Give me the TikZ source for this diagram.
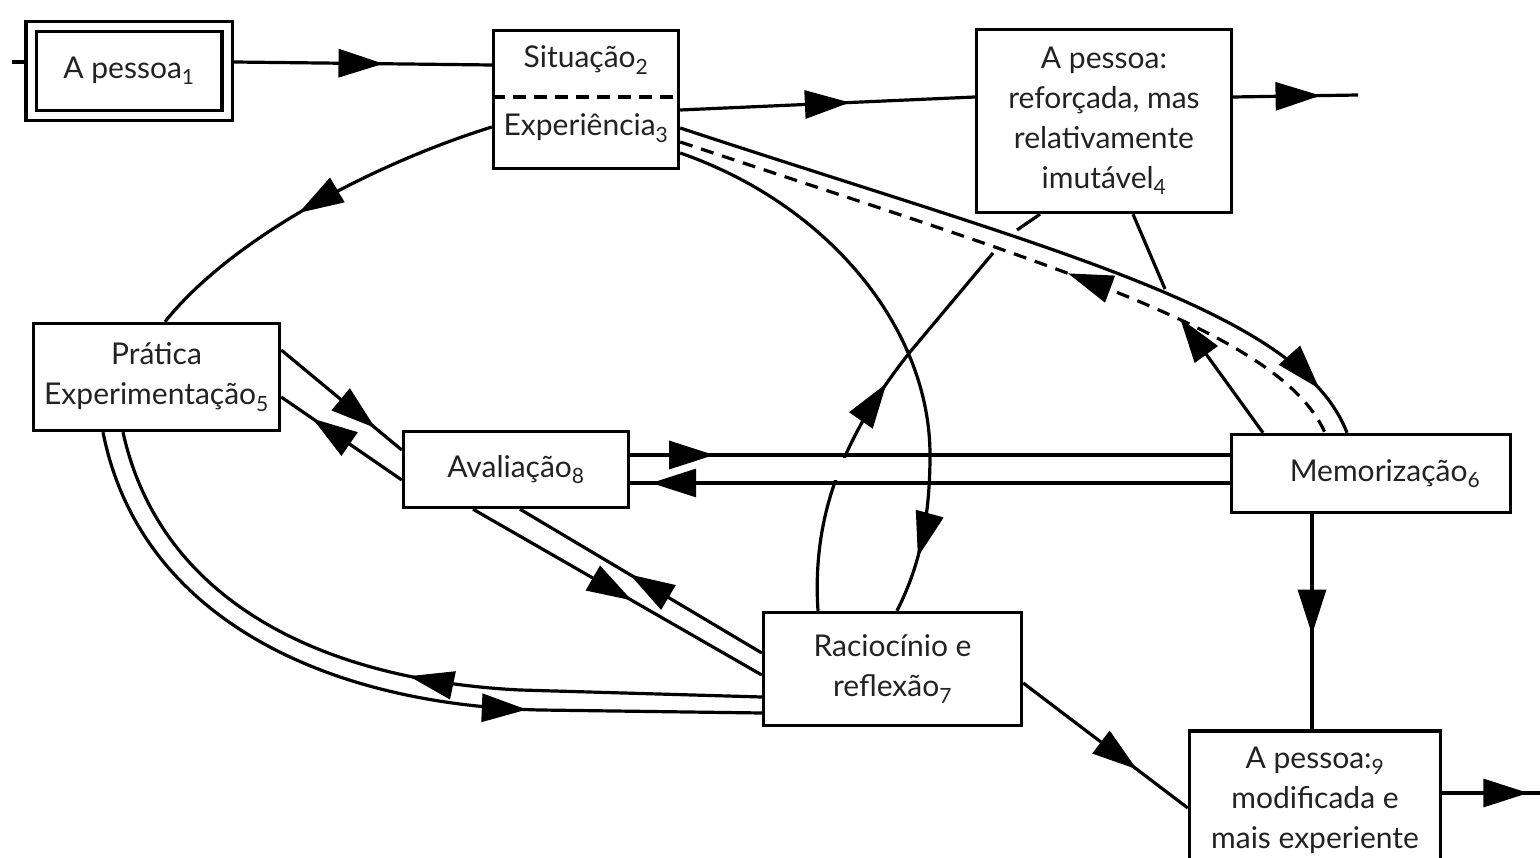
\documentclass[tikz,border=0pt]{standalone}
\usepackage{fontspec}
\setmainfont{Lato}
\usetikzlibrary{arrows.meta,decorations.markings}
\definecolor{txt}{HTML}{222222}
\newcommand\sbx[1]{\textsubscript{#1}}
\tikzset{
  Tri/.tip={Triangle[length=45pt,width=28pt]},
  box/.style={draw=black, line width=3.4pt, fill=white, inner sep=0pt, align=center, text=txt, font=\fontsize{30}{40}\selectfont},
  lbl/.style={inner sep=0pt, text=txt, font=\fontsize{30}{40}\selectfont},
  ln/.style={line width=3.2pt, draw=black},
  marrow/.style={postaction={decorate}, decoration={markings, mark=at position #1 with {\arrow{Tri}}}},
  rarrow/.style={postaction={decorate}, decoration={markings, mark=at position #1 with {\arrowreversed{Tri}}}},
}
\begin{document}
\begin{tikzpicture}[x=1pt,y=-1pt]
\clip (0,0) rectangle (1540,858);
\fill[white] (0,0) rectangle (1540,858);

% boxes
\node[box, double, double distance=7pt, outer sep=7pt, minimum width=196pt, minimum height=89pt] (A1) at (129,71) {A pessoa\sbx{1}};
\node[box, minimum width=185pt, minimum height=138pt] (sit) at (586,99.5) {};
\node[lbl] (t2) at (586,60) {Situação\sbx{2}};
\node[lbl] (t3) at (586,128) {Experiência\sbx{3}};
\draw[line width=3.4pt, dash pattern=on 13pt off 8pt] (sit.west |- 0,97) -- (sit.east |- 0,97);
\node[box, minimum width=255pt, minimum height=183pt] (A4) at (1104,121) {A pessoa:\\reforçada, mas\\relativamente\\imutável\sbx{4}};
\node[box, minimum width=246pt, minimum height=107pt] (pra) at (156.5,377) {Prática\\Experimentação\sbx{5}};
\node[box, minimum width=225pt, minimum height=76pt] (ava) at (516,469.5) {Avaliação\sbx{8}};
\node[box, minimum width=279pt, minimum height=78pt] (mem) at (1371,473.5) {\hspace*{28pt}Memorização\sbx{6}};
\node[box, minimum width=258pt, minimum height=113pt] (rac) at (892.5,669) {Raciocínio e\\reflexão\sbx{7}};
\node[box, minimum width=251pt, minimum height=138pt] (A9) at (1315,800) {A pessoa:\sbx{9}\\modificada e\\mais experiente};

\coordinate (in1) at (12,62);
\coordinate (out4) at (1358,95);
\coordinate (out9) at (1540,793);
\coordinate (d1) at (1180,318);
\coordinate (s1) at (1165,289);
\coordinate (g1) at (993,253);
\coordinate (g2) at (1017,230);

% top row
\draw[ln] (in1) -- (A1.west |- in1);
\draw[ln, marrow=.58] (A1.east |- 0,62) -- (sit.west |- 0,65);
\draw[ln, marrow=.576] (sit.east |- 0,110) -- (A4.west |- 0,97);
\draw[ln, marrow=.70] (A4.east |- 0,97) -- (out4);

% Experiencia -> Pratica
\draw[ln, marrow=.55] (sit.west |- 0,127) .. controls (370,165) and (230,240) .. (pra.north -| 165,0);

% Raciocinio -> A pessoa4 (passes under other lines)
\draw[ln, marrow=.59] (rac.north -| 818,0) .. controls (812,520) and (840,440) .. (910,352) -- (g1);
\fill[white] (830,458) rectangle (858,480);
\draw[ln] (g2) -- (A4.south -| 1040,0);

% Pratica <-> Avaliacao
\draw[ln, marrow=.78] (pra.east |- 0,350) -- (ava.west |- 0,450);
\draw[ln, marrow=.74] (ava.west |- 0,480) -- (pra.east |- 0,397);

% Avaliacao <-> Memorizacao
\draw[ln, marrow=.14] (ava.east |- 0,455) -- (mem.west |- 0,455);
\draw[ln, marrow=.965] (mem.west |- 0,483) -- (ava.east |- 0,483);

% Avaliacao <-> Raciocinio
\draw[ln, marrow=.55] (ava.south -| 473,0) -- (rac.west |- 0,675);
\draw[ln, marrow=.546] (rac.west |- 0,653) -- (ava.south -| 520,0);

% Pratica <-> Raciocinio
\draw[ln, marrow=.70] (pra.south -| 103,0) .. controls (140,620) and (330,705) .. (540,710) -- (rac.west |- 0,713);
\draw[ln, marrow=.47] (rac.west |- 0,697) -- (520,690) .. controls (320,680) and (160,600) .. (pra.south -| 123,0);

% Experiencia -> Raciocinio
\draw[ln, marrow=.90] (sit.east |- 0,153) .. controls (830,205) and (930,330) .. (930,455) .. controls (930,530) and (915,575) .. (rac.north -| 897,0);

% Experiencia <-> Memorizacao
\draw[ln, marrow=.93] (sit.east |- 0,128) .. controls (1050,250) and (1300,310) .. (mem.north -| 1347,0);
\draw[ln, dash pattern=on 13pt off 9pt, rarrow=.57] (sit.east |- 0,142) .. controls (1040,262) and (1280,330) .. (mem.north -| 1325,0);
\draw[ln, -{Tri}] (mem.north -| 1263,0) -- (d1);
\draw[ln] (A4.south -| 1133,0) -- (s1);

% to A pessoa9
\draw[ln, marrow=.56] (mem.south -| 1312,0) -- (A9.north -| 1312,0);
\draw[ln, marrow=.69] (rac.east |- 0,683) -- (A9.west |- 0,808);
\draw[ln, marrow=.88] (A9.east |- 0,793) -- (out9);
\end{tikzpicture}
\end{document}
